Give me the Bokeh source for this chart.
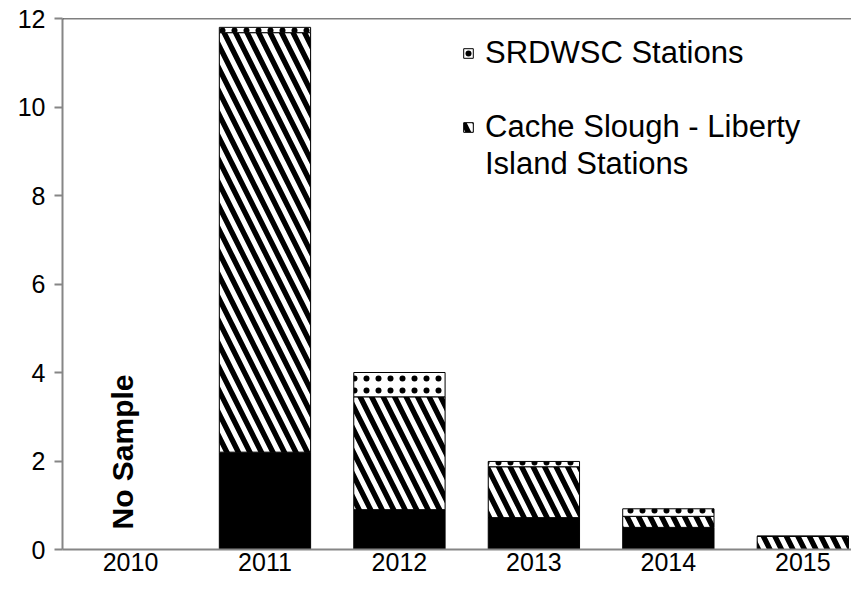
import math
from bokeh.plotting import figure
from bokeh.models import (Legend, LegendItem, Span, FixedTicker, ColumnDataSource,
                          BasicTickFormatter)
from bokeh.core.properties import value
from bokeh.embed import file_html
from bokeh.resources import INLINE

# ---- data ----
years = [2010, 2011, 2012, 2013, 2014, 2015]
other_stations = [0.0, 2.2, 0.9, 0.72, 0.5, 0.0]          # solid black base
cache_slough = [0.0, 9.48, 2.55, 1.15, 0.25, 0.3]          # diagonal hatch
srdwsc = [0.0, 0.12, 0.55, 0.12, 0.17, 0.0]                # dotted
y_ticks = [0, 2, 4, 6, 8, 10, 12]
note_text = "No Sample"
note_year = 2010
label_srdwsc = "SRDWSC Stations"
label_cache_1 = "Cache Slough - Liberty"
label_cache_2 = "Island Stations"

# cumulative stacking
b0 = [0.0] * len(years)
t0 = [b + v for b, v in zip(b0, other_stations)]
t1 = [b + v for b, v in zip(t0, cache_slough)]
t2 = [b + v for b, v in zip(t1, srdwsc)]

FONT = "Liberation Sans"

p = figure(width=851, height=581, output_backend="svg", toolbar_location=None,
           x_range=(2009.4943, 2015.362), y_range=(0, 12),
           min_border_left=62, min_border_right=0, min_border_top=18,
           min_border_bottom=32)
p.outline_line_color = None
p.xgrid.visible = False
p.ygrid.visible = False
p.background_fill_color = "white"
p.border_fill_color = "white"

bw = 0.679
src = ColumnDataSource(dict(x=years, b0=b0, t0=t0, t1=t1, t2=t2))
p.vbar(x="x", bottom="b0", top="t0", width=bw, source=src,
       fill_color="black", line_color="black", line_width=1)
r_cs = p.vbar(x="x", bottom="t0", top="t1", width=bw, source=src,
              fill_color="black", line_color="black", line_width=1,
              hatch_pattern="left_diagonal_line", hatch_color="white",
              hatch_scale=23, hatch_weight=5)
r_sr = p.vbar(x="x", bottom="t1", top="t2", width=bw, source=src,
              fill_color="white", line_color="black", line_width=1,
              hatch_pattern="dot", hatch_color="black",
              hatch_scale=12, hatch_weight=2)
# invisible renderer used only for text-only legend rows
r_blank = p.vbar(x=[], top=[], width=bw, fill_alpha=0, line_alpha=0)

# top border of plot area
p.add_layout(Span(location=12, dimension="width", line_color="black", line_width=1.5))

# "No Sample" note
p.text(x=[note_year], y=[0], text=[note_text], angle=math.pi / 2,
       text_align="left", text_baseline="middle", x_offset=-8, y_offset=-20,
       text_font=value(FONT), text_font_style="bold", text_font_size="30px",
       text_color="black")

# axes
p.yaxis.ticker = FixedTicker(ticks=y_ticks)
p.xaxis.ticker = FixedTicker(ticks=years)
p.xaxis.formatter = BasicTickFormatter(use_scientific=False)
for ax in (p.xaxis[0], p.yaxis[0]):
    ax.axis_line_color = "#868686"
    ax.axis_line_width = 2
    ax.major_tick_line_color = "#868686"
    ax.major_tick_line_width = 2
    ax.minor_tick_line_color = None
    ax.major_label_text_font = FONT
    ax.major_label_text_font_size = "25px"
    ax.major_label_text_color = "black"
p.yaxis.major_tick_out = 8
p.yaxis.major_tick_in = 0
p.yaxis.major_label_standoff = 9
p.xaxis.major_tick_out = 0
p.xaxis.major_tick_in = 0
p.xaxis.major_label_standoff = 3

legend = Legend(items=[LegendItem(label=label_srdwsc, renderers=[r_sr]),
                       LegendItem(label=" ", renderers=[r_blank]),
                       LegendItem(label=label_cache_1, renderers=[r_cs]),
                       LegendItem(label=label_cache_2, renderers=[r_blank])],
                location=(400, 367))
legend.label_text_font = FONT
legend.label_text_font_size = "31px"
legend.label_text_color = "black"
legend.label_height = 37
legend.glyph_width = 12
legend.glyph_height = 12
legend.label_standoff = 11
legend.spacing = 0
legend.padding = 0
legend.margin = 0
legend.border_line_color = None
legend.background_fill_alpha = 0
p.add_layout(legend)

open("out.html", "w").write(file_html(p, INLINE))
